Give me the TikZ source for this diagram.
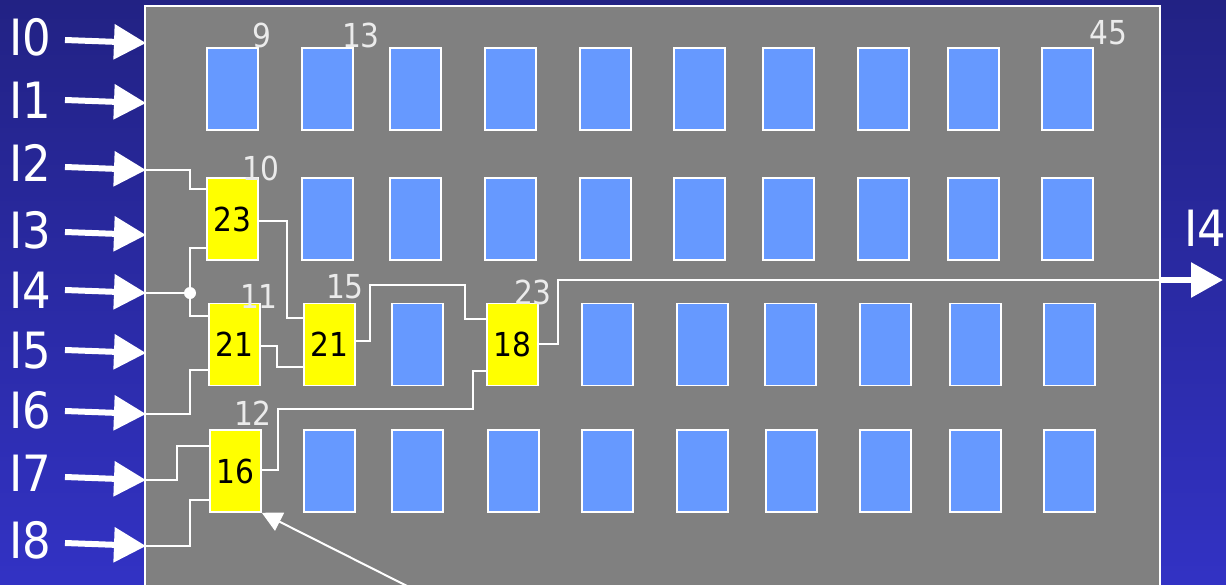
\documentclass[tikz,border=0pt]{standalone}
\usepackage{fontspec}
\setmainfont{DejaVu Sans}[FakeStretch=0.9]
\usetikzlibrary{arrows.meta}
\definecolor{bgtop}{RGB}{34,34,132}
\definecolor{bgbot}{RGB}{50,50,196}
\definecolor{chip}{RGB}{128,128,128}
\definecolor{cell}{RGB}{102,153,255}
\definecolor{used}{RGB}{255,255,0}
\definecolor{lbl}{RGB}{235,235,235}
\tikzset{
  cellbox/.style={draw=white,line width=1.5pt,fill=cell,minimum width=51pt,minimum height=82pt,inner sep=0pt},
  usedbox/.style={draw=white,line width=1.5pt,fill=used,minimum width=51pt,minimum height=82pt,inner sep=0pt,font=\fontsize{33}{33}\selectfont,text=black},
  numlbl/.style={text=lbl,font=\fontsize{33}{33}\selectfont,inner sep=0pt},
  inlbl/.style={text=white,font=\fontsize{50}{50}\selectfont,inner sep=0pt},
  bigarrow/.style={white,line width=6pt,-{Triangle[length=32pt,width=34pt]}},
  wire/.style={white,line width=1.5pt},
}
\begin{document}
\begin{tikzpicture}[x=1pt,y=-1pt]
\useasboundingbox (0,0) rectangle (1226,584);
\shade[top color=bgtop,bottom color=bgbot] (0,0) rectangle (1226,584);
\fill[chip] (145,6) rectangle (1160,590);
\draw[white,line width=1.2pt] (145,590) -- (145,6) -- (1160,6) -- (1160,590);
% row 1
\foreach \x [count=\i] in {232.5,327.5,415.5,510.5,605.5,699.5,788.5,883.5,973.5,1067.5}
  \node[cellbox] (a\i) at (\x,89) {};
% row 2
\node[usedbox] (b1) at (232.5,219) {23};
\foreach \x [count=\i from 2] in {327.5,415.5,510.5,605.5,699.5,788.5,883.5,973.5,1067.5}
  \node[cellbox] (b\i) at (\x,219) {};
% row 3
\node[usedbox] (c1) at (234.5,344.5) {21};
\node[usedbox] (c2) at (329.5,344.5) {21};
\node[cellbox] (c3) at (417.5,344.5) {};
\node[usedbox] (c4) at (512.5,344.5) {18};
\foreach \x [count=\i from 5] in {607.5,702.5,790.5,885.5,975.5,1069.5}
  \node[cellbox] (c\i) at (\x,344.5) {};
% row 4
\node[usedbox] (d1) at (235.5,471) {16};
\foreach \x [count=\i from 2] in {329.5,417.5,513.5,607.5,702.5,791.5,885.5,975.5,1069.5}
  \node[cellbox] (d\i) at (\x,471) {};
% number labels
\node[numlbl] (n9) at (262,35) {9};
\node[numlbl] (n13) at (361,35) {13};
\node[numlbl] (n45) at (1108,33) {45};
\node[numlbl] (n10) at (261,168) {10};
\node[numlbl] (n11) at (259,296) {11};
\node[numlbl] (n15) at (345,287) {15};
\node[numlbl] (n23) at (533,292) {23};
\node[numlbl] (n12) at (253,413) {12};
% inputs
\foreach \n/\ly/\ay in {0/37/43,1/100/103,2/163/170,3/230/235,4/290/293,5/351/353,6/410/414,7/473/480,8/540/546}{
  \node[inlbl] (l\n) at (30,\ly) {I\n};
  \coordinate (s\n) at (65,\ay-3);
  \coordinate (p\n) at (146,\ay);
  \draw[bigarrow] (s\n) -- (p\n);
}
% wires
\coordinate (j) at (190,293);
\draw[wire] (p2) -| (190,189) -- (b1.west |- 190,189);
\draw[wire] (b1.west |- 190,248) -| (j);
\draw[wire] (p4) -- (j) |- (c1.west |- 190,316);
\fill[white] (j) circle (6pt);
\draw[wire] (b1.east |- 0,221) -| (287,318) -- (c2.west |- 0,318);
\draw[wire] (p6) -| (190,370) -- (c1.west |- 0,370);
\draw[wire] (c1.east |- 0,346) -| (277,367) -- (c2.west |- 0,367);
\draw[wire] (c2.east |- 0,341) -| (370,285) -| (465,319) -- (c4.west |- 0,319);
\draw[wire] (d1.east |- 0,470) -| (278,409) -| (473,371) -- (c4.west |- 0,371);
\draw[wire] (p7) -| (177,446) -- (d1.west |- 0,446);
\draw[wire] (p8) -| (190,500) -- (d1.west |- 0,500);
% output
\coordinate (o1) at (1160,280);
\coordinate (o2) at (1223,280);
\draw[wire] (c4.east |- 0,344) -| (558,280) -- (o1);
\draw[bigarrow] (o1) -- (o2);
\node[inlbl] (lo) at (1205,228) {I4};
% pointer arrow
\coordinate (q) at (415,590);
\draw[white,line width=2pt,-{Triangle[length=20pt,width=20pt]}] (q) -- (d1.south east);
\end{tikzpicture}
\end{document}
